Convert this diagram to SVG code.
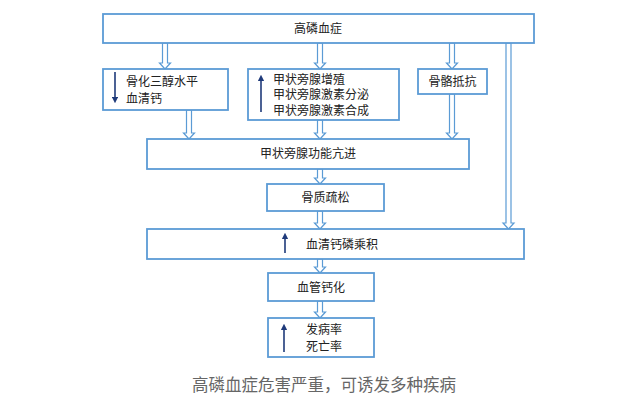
<svg xmlns="http://www.w3.org/2000/svg" width="640" height="405" viewBox="0 0 640 405">
<style>
.box{fill:#fff;stroke:#5b9bd5;stroke-width:1.8}
.ar{fill:#fff;stroke:#5b9bd5;stroke-width:1.2;stroke-linejoin:miter}
.t{font-family:"Noto Sans CJK SC","Noto Sans",sans-serif;font-size:12px;fill:#222}
.c{text-anchor:middle}
.ind{stroke:#1f3a7a;stroke-width:1.6;fill:none}
.cap{font-family:"Noto Sans CJK SC","Noto Sans",sans-serif;font-size:16.5px;fill:#666;text-anchor:middle}
</style>
<defs>
<marker id="up" viewBox="0 0 6 6" refX="3" refY="3" markerWidth="4" markerHeight="4" orient="auto">
<path d="M0,0 L6,3 L0,6 z" fill="#1f3a7a"/>
</marker>
</defs>
<rect width="640" height="405" fill="#fff"/>
<g id="connectors">
<polygon class="ar" points="162.5,43 167.5,43 167.5,63 170.5,63 165,69 159.5,63 162.5,63"/>
<polygon class="ar" points="317.5,43 322.5,43 322.5,63 325.5,63 320,69 314.5,63 317.5,63"/>
<polygon class="ar" points="449.5,43 454.5,43 454.5,63 457.5,63 452,69 446.5,63 449.5,63"/>
<polygon class="ar" points="186.5,110 191.5,110 191.5,133 194.5,133 189,139 183.5,133 186.5,133"/>
<polygon class="ar" points="317.5,120 322.5,120 322.5,133 325.5,133 320,139 314.5,133 317.5,133"/>
<polygon class="ar" points="449.5,94 454.5,94 454.5,133 457.5,133 452,139 446.5,133 449.5,133"/>
<polygon class="ar" points="317.5,169 322.5,169 322.5,178 325.5,178 320,184 314.5,178 317.5,178"/>
<polygon class="ar" points="317.5,211 322.5,211 322.5,223 325.5,223 320,229 314.5,223 317.5,223"/>
<polygon class="ar" points="506,43 511,43 511,223 514,223 508.5,229 503,223 506,223"/>
<polygon class="ar" points="317.5,259 322.5,259 322.5,267 325.5,267 320,273 314.5,267 317.5,267"/>
<polygon class="ar" points="317.5,301 322.5,301 322.5,312 325.5,312 320,318 314.5,312 317.5,312"/>
</g>
<g id="n-top">
<rect class="box" x="103" y="14" width="431" height="29"/>
<text class="t c" x="318" y="33">高磷血症</text>
</g>
<g id="n-calcitriol">
<rect class="box" x="103" y="69" width="125" height="41"/>
<line class="ind" x1="115" y1="72" x2="115" y2="100" marker-end="url(#up)"/>
<text class="t" x="126" y="86">骨化三醇水平</text>
<text class="t" x="126" y="102.5">血清钙</text>
</g>
<g id="n-pth">
<rect class="box" x="248" y="69" width="151" height="51"/>
<line class="ind" x1="261" y1="112" x2="261" y2="78" marker-end="url(#up)"/>
<text class="t" x="273" y="83.5">甲状旁腺增殖</text>
<text class="t" x="273" y="99">甲状旁腺激素分泌</text>
<text class="t" x="273" y="114.5">甲状旁腺激素合成</text>
</g>
<g id="n-bone">
<rect class="box" x="418" y="69" width="69" height="25"/>
<text class="t c" x="452.5" y="86">骨骼抵抗</text>
</g>
<g id="n-hyper">
<rect class="box" x="147" y="139" width="322" height="30"/>
<text class="t c" x="308" y="158">甲状旁腺功能亢进</text>
</g>
<g id="n-osteo">
<rect class="box" x="267" y="184" width="117" height="27"/>
<text class="t c" x="325.5" y="202">骨质疏松</text>
</g>
<g id="n-product">
<rect class="box" x="147" y="229" width="377" height="30"/>
<line class="ind" x1="285" y1="253" x2="285" y2="236" marker-end="url(#up)"/>
<text class="t" x="306" y="249">血清钙磷乘积</text>
</g>
<g id="n-vasc">
<rect class="box" x="268" y="273" width="106" height="28"/>
<text class="t c" x="321" y="292">血管钙化</text>
</g>
<g id="n-rate">
<rect class="box" x="268" y="318" width="106" height="39"/>
<line class="ind" x1="284" y1="352" x2="284" y2="327" marker-end="url(#up)"/>
<text class="t c" x="324" y="334">发病率</text>
<text class="t c" x="324" y="350.5">死亡率</text>
</g>
<text class="cap" x="324" y="391">高磷血症危害严重，可诱发多种疾病</text>
</svg>
